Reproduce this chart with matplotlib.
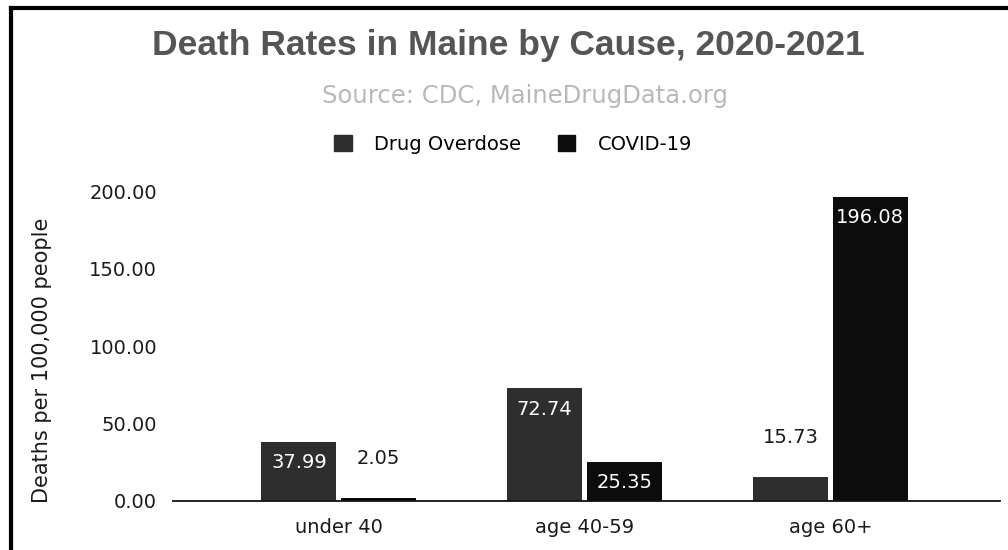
import matplotlib
matplotlib.use("Agg")
import matplotlib.pyplot as plt
import numpy as np
from matplotlib.lines import Line2D

plt.rcParams['font.family'] = ['DejaVu Sans']

# data
groups = ["under 40", "age 40-59", "age 60+"]
overdose = [37.99, 72.74, 15.73]
covid = [2.05, 25.35, 196.08]
series_names = ["Drug Overdose", "COVID-19"]
y_ticks = [0, 50, 100, 150, 200]

col_od = "#2e2e2e"
col_cv = "#0c0c0c"
txt = "#1a1a1a"

fig = plt.figure(figsize=(10.08, 5.5), dpi=100)
ax = fig.add_axes([0.1716, 0.0891, 0.8204, 0.5636])

x = np.arange(len(groups))
w = 0.305
gap = 0.01
b1 = ax.bar(x - w / 2 - gap, overdose, w, color=col_od)
b2 = ax.bar(x + w / 2 + gap, covid, w, color=col_cv)

ax.set_xlim(-0.675, 2.69)
ax.set_ylim(0, 200)
ax.set_yticks(y_ticks)
ax.set_yticklabels([f"{v:.2f}" for v in y_ticks])
ax.set_xticks(x)
ax.set_xticklabels(groups)
ax.tick_params(length=0, labelsize=14, colors=txt)
ax.tick_params(axis="y", pad=11.5)
ax.tick_params(axis="x", pad=12)
for s in ["top", "right", "left"]:
    ax.spines[s].set_visible(False)
ax.spines["bottom"].set_linewidth(1.3)
ax.spines["bottom"].set_color("#111111")

ax.set_ylabel("Deaths per 100,000 people", fontsize=15, color=txt)
ax.yaxis.set_label_coords(-0.146, 0.455)

# value labels
for bars in (b1, b2):
    for r in bars:
        v = r.get_height()
        cx = r.get_x() + r.get_width() / 2
        if v > 20:
            ax.annotate(f"{v:.2f}", (cx, v), xytext=(0, -15), textcoords="offset points",
                        ha="center", va="center", color="white", fontsize=14)
        else:
            ax.annotate(f"{v:.2f}", (cx, v), xytext=(0, 28), textcoords="offset points",
                        ha="center", va="center", color=txt, fontsize=14)

# title, subtitle, legend
fig.text(0.504, 0.918, "Death Rates in Maine by Cause, 2020-2021", ha="center", va="center",
         fontsize=25.5, fontweight="bold", color="#555555", family="Liberation Sans")
fig.text(0.521, 0.825, "Source: CDC, MaineDrugData.org", ha="center", va="center",
         fontsize=17.5, color="#b8b8b8")

handles = [plt.Rectangle((0, 0), 1, 1, color=col_od), plt.Rectangle((0, 0), 1, 1, color=col_cv)]
fig.legend(handles, series_names, loc="center", bbox_to_anchor=(0.509, 0.738), ncol=2,
           frameon=False, fontsize=14, handlelength=0.9, handleheight=0.9,
           columnspacing=1.9, handletextpad=1.15)

# scan frame
fig.add_artist(Line2D([0.0105, 0.0105], [0, 0.985], color="black", lw=3, transform=fig.transFigure))
fig.add_artist(Line2D([0.0105, 1.0], [0.985, 0.985], color="black", lw=3, transform=fig.transFigure))

fig.savefig("out.png", dpi=100)
